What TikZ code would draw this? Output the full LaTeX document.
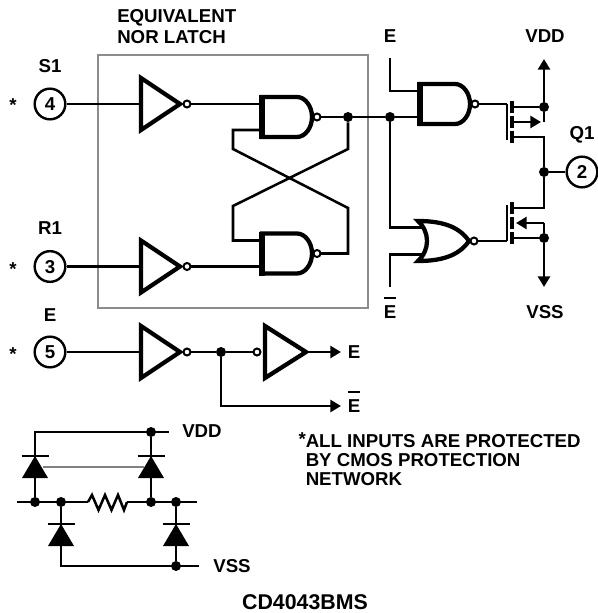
\documentclass[tikz,border=0pt]{standalone}
\usepackage{fontspec}
\setmainfont{Liberation Sans}
\usetikzlibrary{arrows.meta}
\newcommand{\barE}{\rlap{\rule[15pt]{9.3pt}{1.5pt}}E}
\tikzset{
  wire/.style={line width=1.9pt},
  gateline/.style={line width=3.2pt,line join=miter},
  bubble/.style={line width=1.5pt,fill=white},
  boxline/.style={line width=2.2pt,color=black!45},
  tipped/.style={wire,-{Triangle[length=8pt,width=9pt]}},
  txt/.style={font=\bfseries\fontsize{14}{14.25}\selectfont,inner sep=0pt,text height=10pt,text depth=0pt},
  pin/.style={txt,draw,circle,line width=1.8pt,minimum size=23pt},
  jdot/.style={circle,fill=black,inner sep=0pt,minimum size=7.5pt},
  nandgate/.pic={
    \draw[gateline] (0,-20) -- (35,-20) .. controls (43,-20) and (50,-11) .. (50,0)
      .. controls (50,11) and (43,20) .. (35,20) -- (0,20) -- cycle;
    \draw[line width=5pt] (0,-22) -- (0,22);
    \draw[bubble] (55,0) circle (3.5);
    \coordinate (-ina) at (0,-13);
    \coordinate (-inb) at (0,13);
    \coordinate (-out) at (59,0);
  },
  norgate/.pic={
    \draw[gateline] (0,-20) .. controls (27,-20) and (42,-13) .. (51,0)
      .. controls (42,13) and (27,20) .. (0,20)
      .. controls (12,9) and (12,-9) .. (0,-20) -- cycle;
    \draw[bubble] (56,0) circle (3.5);
    \coordinate (-ina) at (7,-13.5);
    \coordinate (-inb) at (7,13.5);
    \coordinate (-out) at (60,0);
  },
  invgate/.pic={
    \draw[gateline] (0,-26) -- (39,0) -- (0,26) -- cycle;
    \draw[bubble] (46,0) circle (3.5);
    \coordinate (-in) at (0,0);
    \coordinate (-out) at (50,0);
  },
  invbubin/.pic={
    \draw[gateline] (0,-26) -- (41,0) -- (0,26) -- cycle;
    \draw[bubble] (-8,0) circle (3.5);
    \coordinate (-in) at (-12,0);
    \coordinate (-out) at (41,0);
  },
  mosbars/.pic={
    \draw[wire] (0,-18) -- (0,18);
    \draw[gateline] (5,-21) -- (5,-9);
    \draw[gateline] (5,-6) -- (5,6);
    \draw[gateline] (5,9) -- (5,21);
    \coordinate (-gtop) at (0,-18);
    \coordinate (-gbot) at (0,18);
    \coordinate (-dtop) at (5,-15);
    \coordinate (-mid) at (5,0);
    \coordinate (-sbot) at (5,15);
  },
  diodeup/.pic={
    \draw[wire] (-13.5,0) -- (13.5,0);
    \fill (0,0) -- (13,22) -- (-13,22) -- cycle;
  }
}
\begin{document}
\begin{tikzpicture}[x=0.75pt,y=-0.75pt]
  \useasboundingbox (0,0) rectangle (598,613);

  % Latch frame
  \draw[boxline] (98,55) rectangle (368,308);

  % Pins
  \node[pin] (pinS) at (50,104) {4};
  \node[pin] (pinR) at (50,266.5) {3};
  \node[pin] (pinE) at (50,352) {5};
  \node[pin] (pinQ) at (582,172) {2};

  % Gates
  \pic (invS) at (141,104) {invgate};
  \pic (invR) at (141,266.5) {invgate};
  \pic (invE) at (141,352) {invgate};
  \pic (invF) at (265,352) {invbubin};
  \pic (nandA) at (262,117) {nandgate};
  \pic (nandB) at (262,253.5) {nandgate};
  \pic (nandC) at (420,104) {nandgate};
  \pic (norD) at (418,241) {norgate};
  \pic (mosP) at (507,122) {mosbars};
  \pic (mosN) at (507,223) {mosbars};

  % Junctions
  \node[jdot] (jA) at (348,117) {};
  \node[jdot] (jB) at (390,117) {};
  \node[jdot] (jVDD) at (544,107) {};
  \node[jdot] (jOut) at (544,172) {};
  \node[jdot] (jVSS) at (544,238) {};
  \node[jdot] (jE) at (221,352) {};

  % Free ends and corners
  \coordinate (crossUL) at (233,149);
  \coordinate (crossUR) at (348,149);
  \coordinate (crossLL) at (233,206);
  \coordinate (crossLR) at (348,208);
  \coordinate (eTop) at (390,58);
  \coordinate (eBot) at (390,287);
  \coordinate (vddEnd) at (544,59);
  \coordinate (vssEnd) at (544,287);
  \coordinate (ePos) at (341,352);
  \coordinate (eNeg) at (341,406);
  \coordinate (eBend) at (221,406);

  % Drawing inputs and latch
  \draw[wire] (pinS) -- (invS-in);
  \draw[wire] (pinR) -- (invR-in);
  \draw[wire] (invS-out) -- (nandA-ina);
  \draw[wire] (invR-out) -- (nandB-inb);
  \draw[wire] (nandA-out) -- (jA) -- (jB);
  \draw[wire] (nandA-inb) -| (crossUL) -- (crossLR) |- (nandB-out);
  \draw[wire] (jA) -- (crossUR) -- (crossLL) |- (nandB-ina);

  % Drawing output stage
  \draw[wire] (eTop) |- (nandC-ina);
  \draw[wire] (jB) -- (nandC-inb);
  \draw[wire] (jB) |- (norD-ina);
  \draw[wire] (eBot) |- (norD-inb);
  \draw[wire] (nandC-out) -- (mosP-gtop);
  \draw[wire] (norD-out) -- (mosN-gbot);
  \draw[wire] (mosP-dtop) -- (jVDD);
  \draw[wire] (mosP-sbot) -| (jOut);
  \draw[wire] (mosN-dtop) -| (jOut);
  \draw[wire] (mosN-sbot) -| (jVSS);
  \draw[wire] (jOut) -- (pinQ);
  \draw[tipped] (jVDD) -- (vddEnd);
  \draw[tipped] (jVSS) -- (vssEnd);
  \draw[tipped] (mosP-mid) -- ++(29,0);
  \draw[wire] (jVDD) -- (544,122);
  \draw[wire] (jVSS) -- (544,223);
  \draw[tipped] (544,223) -- ++(-28,0);

  % Drawing enable row
  \draw[wire] (pinE) -- (invE-in);
  \draw[wire] (invE-out) -- (jE) -- (invF-in);
  \draw[tipped] (invF-out) -- (ePos);
  \draw[tipped] (jE) -- (eBend) -- (eNeg);

  % Protection network
  \node[jdot] (jTop) at (151,432) {};
  \node[jdot] (jLa) at (35,502) {};
  \node[jdot] (jLb) at (61,502) {};
  \node[jdot] (jRa) at (151,502) {};
  \node[jdot] (jRb) at (176,502) {};
  \node[jdot] (jBot) at (176,566) {};
  \coordinate (topL) at (35,432);
  \coordinate (topR) at (169,432);
  \coordinate (midL) at (17,502);
  \coordinate (midR) at (197,502);
  \coordinate (botL) at (61,566);
  \coordinate (botR) at (199,566);
  \coordinate (resL) at (88,502);
  \coordinate (resR) at (127,502);
  \draw[wire] (jLa) -- (topL) -- (topR);
  \draw[wire] (jTop) -- (jRa);
  \draw[wire] (jLb) -- (botL) -- (botR);
  \draw[wire] (jRb) -- (jBot);
  \draw[wire] (midL) -- (resL);
  \draw[wire] (resR) -- (midR);
  \draw[wire] (resL) -- ++(4,-7) -- ++(6.5,15) -- ++(6.5,-15) -- ++(6.5,15)
    -- ++(6.5,-15) -- ++(6,15) -- (resR);
  \draw[line width=1.8pt,color=black!50] (43,467) -- (144,467);
  \pic at (35,456) {diodeup};
  \pic at (151,456) {diodeup};
  \pic at (61,524) {diodeup};
  \pic at (176,524) {diodeup};

  % Labels
  \node[txt,anchor=west] (lblEq) at (117,16) {EQUIVALENT};
  \node[txt,anchor=west] (lblNor) at (117,37) {NOR LATCH};
  \node[txt] (lblS) at (50,66) {S1};
  \node[txt] (lblR) at (50,228) {R1};
  \node[txt] (lblE) at (50,315) {E};
  \node[txt] (starS) at (13,105) {*};
  \node[txt] (starR) at (13,269) {*};
  \node[txt] (starE) at (13,354) {*};
  \node[txt] (lblETop) at (390,36) {E};
  \node[txt] (lblEBot) at (390,312) {\barE};
  \node[txt] (lblVdd) at (545,36) {VDD};
  \node[txt] (lblVss) at (545,312) {VSS};
  \node[txt] (lblQ) at (582,133) {Q1};
  \node[txt] (lblEPos) at (354,352) {E};
  \node[txt] (lblENeg) at (354,406) {\barE};
  \node[txt] (lblVddB) at (202,431) {VDD};
  \node[txt] (lblVssB) at (232,566) {VSS};
  \node[txt,anchor=north west,align=left,text height=,text depth=] (lblNote) at (305.5,432.5) {\llap{\raisebox{1.5pt}{*}}ALL INPUTS ARE PROTECTED\\BY CMOS PROTECTION\\NETWORK};
  \node[txt,font=\bfseries\fontsize{16}{16}\selectfont,text height=11.5pt] (lblPart) at (305,602) {CD4043BMS};
\end{tikzpicture}
\end{document}
